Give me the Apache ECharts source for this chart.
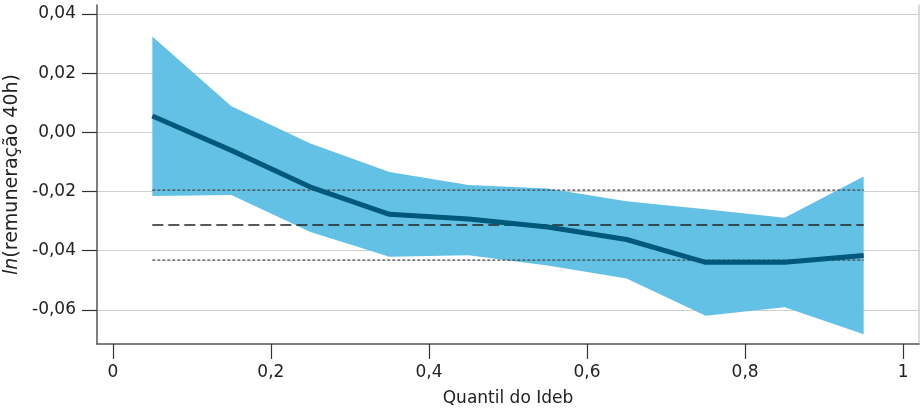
<!DOCTYPE html>
<html>
<head>
<meta charset="utf-8">
<script src="https://cdn.jsdelivr.net/npm/echarts@6/dist/echarts.min.js"></script>
<style>
  html, body { margin: 0; padding: 0; background: #fff; }
  #chart { width: 921px; height: 415px; }
</style>
</head>
<body>
<div id="chart"></div>
<script>
// quantis do Ideb (centro de cada decil)
var quantis = [0.05, 0.15, 0.25, 0.35, 0.45, 0.55, 0.65, 0.75, 0.85, 0.95];
// coeficiente estimado
var coef = [0.0055, -0.0061, -0.0185, -0.0277, -0.0293, -0.032, -0.0362, -0.0439, -0.0439, -0.0416];
// intervalo de confiança
var superior = [0.0324, 0.0088, -0.0038, -0.0134, -0.0178, -0.019, -0.0233, -0.026, -0.0289, -0.0149];
var inferior = [-0.0215, -0.0212, -0.0337, -0.042, -0.0415, -0.045, -0.0494, -0.062, -0.0591, -0.0682];
// média e seu intervalo (linhas horizontais)
var mediaLinha = -0.0313;
var mediaSup = -0.0195;
var mediaInf = -0.0432;
// marcas dos eixos
var xTicks = [0, 0.2, 0.4, 0.6, 0.8, 1];
var yTicks = [-0.06, -0.04, -0.02, 0, 0.02, 0.04];

var fonte = 'DejaVu Sans';

function virgula(v, casas)
{
    return v.toFixed(casas).replace('.', ',');
}

function horizontal(y)
{
    return [[quantis[0], y], [quantis[quantis.length - 1], y]];
}

var faixa = [];
for (var i = 0; i < quantis.length; i++) {
    faixa.push([quantis[i], superior[i], inferior[i]]);
}

var myChart = echarts.init(document.getElementById('chart'));

myChart.setOption({
    animation: false,
    grid: { left: 97, right: 2, top: 5, bottom: 71, outerBoundsMode: 'none' },
    xAxis: {
        type: 'value',
        min: -0.02,
        max: 1.02,
        name: 'Quantil do Ideb',
        nameLocation: 'middle',
        nameGap: 46,
        nameTextStyle: { fontFamily: fonte, fontSize: 17, color: '#222' },
        axisLine: { onZero: false, lineStyle: { color: '#555', width: 1.5 } },
        axisTick: { show: true, length: 15, lineStyle: { color: '#333', width: 1.2 }, customValues: xTicks },
        axisLabel: {
            customValues: xTicks,
            margin: 20,
            fontFamily: fonte,
            fontSize: 17,
            color: '#222',
            formatter: function (v) { return v === 0 || v === 1 ? String(v) : virgula(v, 1); }
        },
        splitLine: { show: false }
    },
    yAxis: [
        {
            type: 'value',
            min: -0.0715,
            max: 0.043,
            name: '{i|ln}(remuneração 40h)',
            nameLocation: 'middle',
            nameGap: 71,
            nameTextStyle: {
                fontFamily: fonte, fontSize: 19, color: '#222',
                rich: { i: { fontFamily: fonte, fontSize: 19, fontStyle: 'italic', color: '#222' } }
            },
            axisLine: { show: true, onZero: false, lineStyle: { color: '#555', width: 1.5 } },
            axisTick: { show: true, length: 15, lineStyle: { color: '#333', width: 1.2 }, customValues: yTicks },
            axisLabel: {
                customValues: yTicks,
                margin: 21,
                fontFamily: fonte,
                fontSize: 17,
                color: '#222',
                formatter: function (v) { return virgula(v, 2); }
            },
            splitLine: { show: true, lineStyle: { color: '#cfcfcf', width: 1 } }
        },
        {
            type: 'value',
            position: 'right',
            min: -0.0715,
            max: 0.043,
            axisLine: { show: true, onZero: false, lineStyle: { color: '#cfcfcf', width: 1.5 } },
            axisTick: { show: false },
            axisLabel: { show: false },
            splitLine: { show: false }
        }
    ],
    series: [
        {
            //intervalo de confiança
            type: 'custom',
            data: faixa,
            silent: true,
            z: 1,
            renderItem: function (params, api) {
                if (params.dataIndex !== 0) return null;
                var pts = [];
                for (var k = 0; k < faixa.length; k++) pts.push(api.coord([faixa[k][0], faixa[k][1]]));
                for (var k = faixa.length - 1; k >= 0; k--) pts.push(api.coord([faixa[k][0], faixa[k][2]]));
                return { type: 'polygon', shape: { points: pts }, style: { fill: '#64c1e6' } };
            }
        },
        {
            type: 'line',
            data: horizontal(mediaSup),
            symbol: 'none',
            z: 3,
            lineStyle: { color: '#444', width: 1.2, type: [3, 2] }
        },
        {
            type: 'line',
            data: horizontal(mediaInf),
            symbol: 'none',
            z: 3,
            lineStyle: { color: '#444', width: 1.2, type: [3, 2] }
        },
        {
            type: 'line',
            data: horizontal(mediaLinha),
            symbol: 'none',
            z: 3,
            lineStyle: { color: '#222', width: 1.3, type: [11, 5] }
        },
        {
            type: 'line',
            data: quantis.map(function (q, i) { return [q, coef[i]]; }),
            symbol: 'none',
            z: 4,
            lineStyle: { color: '#00587a', width: 5 }
        }
    ]
});
</script>
</body>
</html>
